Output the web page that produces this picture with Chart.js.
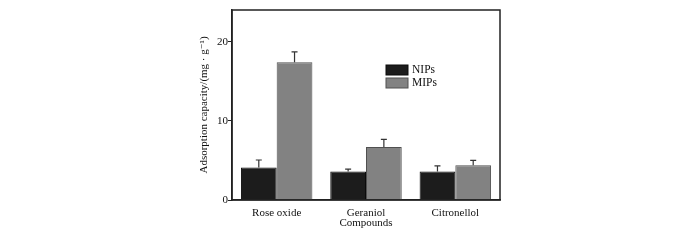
<!DOCTYPE html>
<html>
<head>
<meta charset="utf-8">
<script src="https://cdn.jsdelivr.net/npm/chart.js@4.4.0/dist/chart.umd.min.js"></script>
<style>
  html, body { margin: 0; padding: 0; background: #fff; }
  #wrap { width: 700px; height: 240px; }
</style>
</head>
<body>
<div id="wrap"><canvas id="chartAds"></canvas></div>
<script>
const compounds = ["Rose oxide", "Geraniol", "Citronellol"];
const nips = [4.1, 3.6, 3.6];
const nipsErr = [0.95, 0.3, 0.7];
const mips = [17.4, 6.7, 4.4];
const mipsErr = [1.3, 0.95, 0.6];
const yTicks = [0, 10, 20];

const serif = "'Liberation Serif', 'DejaVu Serif', serif";

// upper error whiskers
const errorBars = {
    id: "errorBars",
    afterDatasetsDraw(chart) {
        const ctx = chart.ctx;
        const y = chart.scales.y;
        ctx.save();
        ctx.strokeStyle = "#333";
        ctx.lineWidth = 1.2;
        chart.data.datasets.forEach((ds, i) => {
            const meta = chart.getDatasetMeta(i);
            meta.data.forEach((bar, j) => {
                const top = y.getPixelForValue(ds.data[j] + ds.err[j]);
                ctx.beginPath();
                ctx.moveTo(bar.x, bar.y);
                ctx.lineTo(bar.x, top);
                ctx.moveTo(bar.x - 3, top);
                ctx.lineTo(bar.x + 3, top);
                ctx.stroke();
            });
        });
        ctx.restore();
    }
};

// frame + legend inside plot
const frameLegend = {
    id: "frameLegend",
    afterDraw(chart) {
        const ctx = chart.ctx;
        const a = chart.chartArea;
        ctx.save();
        ctx.strokeStyle = "#222";
        ctx.lineWidth = 1.5;
        ctx.strokeRect(a.left, a.top, a.right - a.left, a.bottom - a.top);

        ctx.font = "11.5px " + serif;
        ctx.textBaseline = "middle";
        chart.data.datasets.forEach((ds, i) => {
            const bx = a.left + 154, by = a.top + 55 + i * 13;
            ctx.fillStyle = ds.backgroundColor;
            ctx.strokeStyle = ds.borderColor;
            ctx.lineWidth = 1;
            ctx.fillRect(bx, by, 22, 10);
            ctx.strokeRect(bx, by, 22, 10);
            ctx.fillStyle = "#111";
            ctx.fillText(ds.label, bx + 26, by + 5);
        });
        ctx.restore();
    }
};

new Chart(document.getElementById("chartAds"), {
    type: "bar",
    data: {
        labels: compounds,
        datasets: [
            {
                label: "NIPs",
                data: nips,
                err: nipsErr,
                backgroundColor: "#1c1c1c",
                borderColor: "#0a0a0a",
                borderWidth: 1
            },
            {
                label: "MIPs",
                data: mips,
                err: mipsErr,
                backgroundColor: "#828282",
                borderColor: "#505050",
                borderWidth: 1
            }
        ]
    },
    options: {
        responsive: true,
        maintainAspectRatio: false,
        animation: false,
        layout: { padding: { left: 196, right: 200, top: 10, bottom: 6 } },
        datasets: { bar: { categoryPercentage: 0.8, barPercentage: 1.0 } },
        plugins: {
            legend: { display: false },
            tooltip: { enabled: false }
        },
        scales: {
            x: {
                grid: { display: false },
                border: { color: "#222", width: 1.5 },
                ticks: { color: "#111", font: { family: serif, size: 11 }, padding: -1 },
                title: {
                    display: true,
                    text: "Compounds",
                    color: "#111",
                    font: { family: serif, size: 11 },
                    padding: { top: 0, bottom: 4 }
                },
                afterFit(scale) { scale.height = 34; }
            },
            y: {
                min: 0,
                max: 24,
                afterBuildTicks(scale) { scale.ticks = yTicks.map(v => ({ value: v })); },
                grid: { display: true, drawOnChartArea: false, drawTicks: true, tickLength: 4, color: "#222" },
                border: { color: "#222", width: 1.5 },
                ticks: { color: "#111", font: { family: serif, size: 11 }, padding: 0 },
                title: {
                    display: true,
                    text: "Adsorption capacity/(mg · g⁻¹)",
                    color: "#111",
                    font: { family: serif, size: 11 },
                    padding: { top: 2, bottom: 2 }
                },
                afterFit(scale) { scale.width = 36; }
            }
        }
    },
    plugins: [errorBars, frameLegend]
});
</script>
</body>
</html>
